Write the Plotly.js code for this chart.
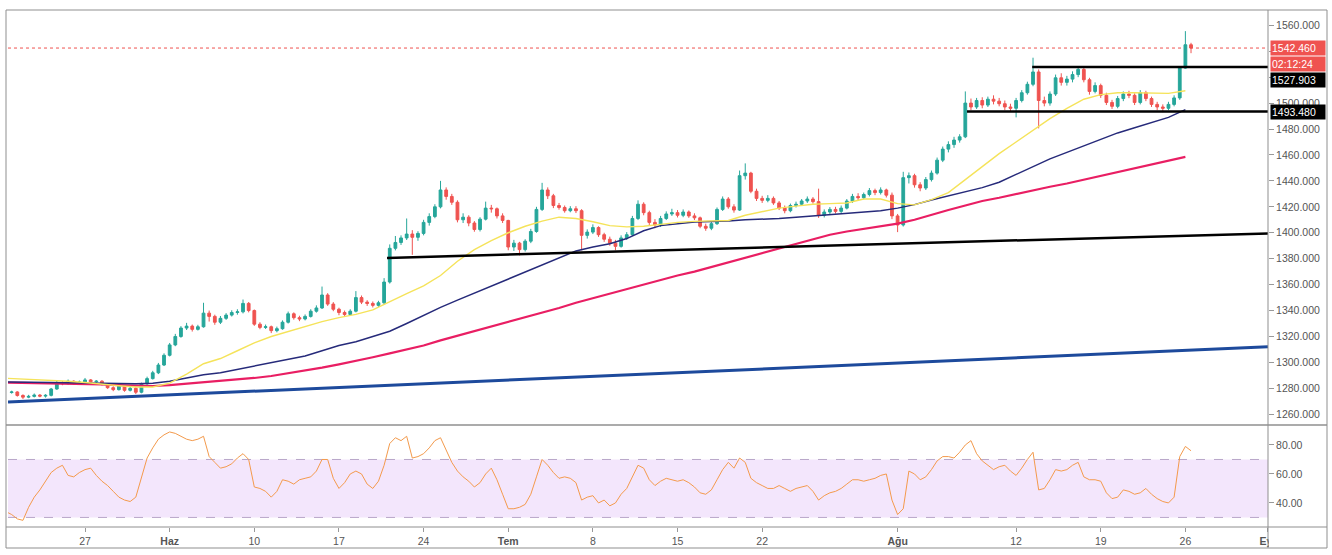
<!DOCTYPE html>
<html><head><meta charset="utf-8">
<script src="https://cdn.plot.ly/plotly-3.0.1.min.js"></script>
<style>html,body{margin:0;padding:0;background:#fff;overflow:hidden}#chart{width:1332px;height:555px}</style>
</head><body><div id="chart"></div>
<script>
// XAUUSD, 8-hour bars (3 bars per trading day, day 0 = 20 May 2019)
const firstOpen = 1278.0;
const closes = [
1277.5,1276.8,1277.2, 1274.5,1273.2,1273.8, 1274.8,1274.0,1274.6, 1279.5,1284.5,1283.5, 1285.5,1284.0,1284.8,
1286.5,1285.0,1285.5, 1283.0,1280.5,1279.0, 1281.5,1278.5,1280.0, 1277.0,1283.5,1287.5, 1292.0,1298.0,1305.5,
1313.5,1320.0,1326.5, 1328.0,1325.5,1327.5, 1338.0,1335.5,1331.0, 1334.0,1336.5,1338.5, 1339.0,1345.5,1340.0,
1329.5,1327.0,1327.5, 1324.5,1326.0,1331.0, 1337.5,1334.5,1333.5, 1335.5,1339.5,1342.0, 1352.0,1345.0,1341.0,
1338.5,1337.0,1339.5, 1350.0,1346.5,1345.5, 1344.0,1346.0,1362.0, 1388.0,1392.5,1396.0, 1399.0,1396.5,1399.5,
1408.0,1412.5,1420.0, 1433.0,1428.0,1423.5, 1410.0,1412.0,1407.5, 1402.5,1410.5,1419.0, 1418.5,1413.0,1409.5,
1389.0,1392.0,1387.0, 1393.5,1401.0,1418.0, 1433.0,1428.5,1421.0, 1419.5,1417.0,1418.5, 1417.0,1398.0,1400.5,
1404.0,1398.5,1395.0, 1392.0,1389.5,1396.0, 1398.5,1411.0,1422.0, 1415.5,1408.0,1406.0, 1411.0,1414.5,1415.5,
1413.5,1416.0,1413.0, 1411.5,1405.0,1403.5, 1407.0,1418.0,1426.0, 1420.0,1417.5,1444.0, 1446.0,1432.0,1426.5,
1425.0,1426.5,1423.0, 1419.0,1417.0,1421.0, 1422.0,1424.5,1426.0, 1424.0,1413.5,1416.0, 1418.0,1416.5,1419.0,
1424.5,1428.0,1427.0, 1429.5,1432.5,1431.0, 1433.0,1429.0,1413.0, 1406.0,1442.5,1444.0, 1437.0,1434.5,1441.0,
1446.0,1456.0,1464.5, 1468.0,1471.5,1474.0, 1500.0,1497.0,1502.0, 1498.5,1503.0,1501.5, 1499.5,1497.0,1496.0,
1502.0,1508.0,1514.5, 1524.0,1502.0,1500.0, 1507.0,1519.5,1516.0, 1518.5,1522.0,1526.0, 1518.0,1509.0,1513.5,
1506.0,1500.5,1497.5, 1503.5,1507.0,1506.0, 1500.5,1508.0,1503.5, 1499.0,1497.0,1496.0, 1499.0,1504.0,1527.0,
1545.0,1542.46
];
const highs = [
1279.0,1278.5,1278.2, 1277.8,1275.4,1275.0, 1276.0,1275.6,1275.5, 1280.3,1286.0,1285.6, 1286.8,1286.2,1286.0,
1288.0,1287.2,1286.4, 1286.3,1283.8,1281.6, 1282.6,1282.3,1281.2, 1280.8,1284.4,1289.0, 1293.5,1299.6,1307.0,
1315.0,1322.0,1328.0, 1330.5,1329.2,1329.0, 1346.0,1340.0,1336.8, 1335.8,1338.0,1340.2, 1341.0,1348.5,1346.6,
1340.8,1331.0,1329.2, 1328.4,1327.6,1332.4, 1339.2,1338.6,1336.0, 1337.0,1341.0,1344.0, 1358.5,1353.4,1346.5,
1342.2,1340.0,1341.0, 1355.0,1351.6,1348.0, 1347.0,1347.5,1365.0, 1391.0,1397.5,1398.0, 1411.0,1402.0,1401.2,
1410.0,1415.0,1422.0, 1440.0,1435.0,1430.0, 1425.0,1415.0,1413.5, 1409.0,1412.0,1424.0, 1421.5,1419.5,1415.0,
1410.0,1394.5,1393.0, 1395.0,1403.0,1420.0, 1438.5,1435.0,1430.0, 1423.0,1421.0,1420.5, 1420.5,1418.2,1402.6,
1406.5,1405.0,1400.0, 1397.0,1394.5,1398.0, 1400.5,1413.0,1425.0, 1423.5,1417.0,1410.5, 1413.0,1416.5,1418.5,
1417.5,1418.0,1417.2, 1415.0,1412.5,1407.0, 1408.5,1419.5,1428.0, 1427.5,1422.0,1448.0, 1453.5,1447.0,1434.0,
1428.5,1429.0,1428.0, 1424.5,1421.0,1422.5, 1424.0,1426.0,1428.0, 1427.5,1434.0,1418.0, 1419.8,1420.0,1421.0,
1426.0,1430.0,1430.5, 1431.0,1434.5,1434.0, 1435.0,1434.0,1431.0, 1414.5,1447.0,1446.5, 1445.5,1439.0,1443.0,
1448.0,1458.0,1466.5, 1470.5,1474.0,1476.0, 1509.0,1503.5,1504.0, 1504.5,1505.0,1506.0, 1504.0,1502.0,1499.5,
1504.0,1510.0,1516.5, 1535.0,1526.0,1505.0, 1509.0,1522.0,1523.0, 1521.0,1524.5,1528.0, 1527.0,1519.5,1516.0,
1515.0,1508.0,1502.5, 1505.5,1509.0,1509.5, 1507.5,1510.0,1509.5, 1505.0,1501.0,1499.0, 1501.0,1506.0,1528.5,
1555.5,1546.5
];
const lows = [
1276.5,1275.8,1275.9, 1273.6,1271.8,1272.4, 1273.0,1273.1,1272.9, 1273.8,1278.9,1282.4, 1282.9,1283.0,1283.2,
1284.2,1284.3,1284.1, 1282.2,1279.6,1277.8, 1278.3,1277.4,1277.6, 1275.6,1276.2,1282.7, 1286.8,1291.0,1297.2,
1304.6,1312.5,1319.0, 1325.0,1323.8,1324.6, 1326.8,1331.5,1329.0, 1329.6,1332.8,1335.4, 1336.8,1337.8,1338.6,
1328.2,1325.6,1325.8, 1322.6,1323.2,1325.2, 1330.0,1333.0,1331.8, 1332.4,1334.6,1338.4, 1341.2,1343.6,1339.5,
1336.4,1335.5,1336.0, 1338.6,1345.0,1343.6, 1342.4,1342.8,1344.8, 1360.8,1386.4,1390.6, 1394.4,1383.0,1393.8,
1398.0,1405.5,1411.2, 1418.8,1425.5,1421.5, 1408.0,1407.5,1405.0, 1400.8,1401.0,1409.5, 1415.5,1411.0,1407.5,
1386.5,1386.0,1382.5, 1385.5,1392.0,1400.0, 1416.8,1426.0,1419.0, 1417.8,1415.5,1415.8, 1415.2,1386.5,1395.5,
1399.0,1396.8,1393.0, 1390.0,1386.5,1388.5, 1394.5,1397.5,1409.8, 1413.5,1406.0,1403.5, 1404.5,1409.8,1413.0,
1411.8,1412.0,1411.5, 1409.8,1403.5,1401.5, 1402.0,1406.0,1416.8, 1418.5,1415.5,1416.8, 1441.0,1430.5,1424.5,
1423.0,1423.5,1421.5, 1417.5,1415.0,1415.8, 1419.5,1420.8,1423.0, 1422.5,1411.5,1411.8, 1414.5,1414.8,1415.2,
1418.0,1423.0,1425.2, 1425.8,1428.0,1429.0, 1429.5,1427.2,1410.5, 1400.5,1404.8,1438.0, 1434.8,1432.0,1433.0,
1439.5,1444.8,1454.5, 1462.0,1465.5,1469.5, 1473.0,1494.5,1495.5, 1496.0,1497.0,1499.0, 1497.5,1494.5,1493.5,
1489.0,1500.5,1506.5, 1513.0,1480.5,1497.5, 1498.0,1505.5,1513.5, 1513.5,1516.0,1520.0, 1516.0,1506.5,1507.5,
1504.0,1498.5,1495.5, 1496.0,1501.5,1503.8, 1498.5,1499.0,1501.5, 1497.0,1494.5,1493.0, 1494.5,1497.5,1502.5,
1526.5,1538.5
];
const rsi = [
36,34,32,29,28,37,44,49,55,61, 64,66,59,58,61,63,64,59,55,52, 48,44,42,41,44,58,71,78,84,87,
89,88,86,84,83,84,86,72,68,64, 65,67,71,74,70,51,50,48,44,48, 56,55,53,56,57,58,62,70,70,57,
50,54,60,62,60,53,50,55,66,81, 85,83,86,71,72,74,78,83,85,76, 68,62,58,55,51,54,60,64,56,46,
36,36,37,39,46,58,70,66,61,57, 58,57,54,42,44,45,40,42,38,40, 46,50,58,66,64,56,52,55,57,56,
55,56,54,51,47,46,49,56,63,68, 64,71,68,57,54,52,50,50,52,50, 48,50,51,52,48,42,45,47,48,50,
53,56,56,55,56,57,59,60,42,32, 36,62,60,56,58,63,69,72,72,71, 75,80,83,74,69,66,63,65,66,62,
59,64,70,75,49,50,56,63,62,63, 66,68,58,56,56,55,47,43,44,49, 48,46,47,50,46,43,41,40,44,72,
79,76
];
// Moving averages, one value per trading day
const maYellow = [
1288,1287.5,1287,1286.5,1285.5,1284.5,1283,1282,1281,1281,
1284,1291,1299,1303,1309,1315,1320,1324,1328,1331.5,
1334.5,1337,1340.5,1347,1353,1359,1367,1378,1387,1394,
1400,1405,1409,1412,1411,1408.5,1405.5,1404.5,1405,1406.5,
1408,1408.8,1409,1409.5,1413.5,1416.5,1419,1420.5,1422,1422.5,
1423,1426,1426,1422.5,1421.5,1425.5,1431,1441,1451,1461,
1470,1479,1488,1496,1503,1506.5,1508,1508,1508,1507.5,
1509.5
];
const maNavy = [
1285,1285,1284.8,1284.5,1284.3,1284,1284,1283.8,1283.6,1284,
1285.5,1288,1290.5,1292,1294.5,1297,1300,1302,1305,1309,
1313,1316,1320,1324,1330,1336.5,1342.5,1348,1353.5,1359,
1364.5,1370,1375.5,1381,1386,1389,1391.5,1395.5,1401.5,1405.5,
1407,1408.2,1408.7,1409,1410,1410.3,1411,1412,1413,1414,
1415,1415.7,1417,1419,1421.7,1425.3,1428.5,1431.5,1434.8,1439,
1445,1451,1457,1462,1467,1472,1477,1481,1485,1489,
1495
];
const maCrimson = [
1284.5,1284.3,1284,1283.8,1283.5,1283.2,1283,1282.5,1282,1281.8,
1282.5,1283.5,1284.5,1285.5,1286.5,1288,1289.5,1291.5,1293.5,1296,
1298.5,1301,1304,1307,1310,1313,1317,1320.5,1324,1327.5,
1331,1334.5,1338.5,1342,1346,1349.5,1353,1357,1360.5,1364,
1367,1370,1373.5,1377,1381,1384.5,1388,1391.5,1395,1398.5,
1401,1403,1405,1407,1410,1414,1417.5,1421,1424.5,1427,
1430,1432.5,1435.5,1438,1441,1444,1447,1450,1453,1455.5,
1458.5
];
// drawn lines (day index, price)
const baseTrendDays = [0.45, 74.88], baseTrendPrices = [1269.5, 1312.0];
const supportTrendDays = [22.84, 74.88], supportTrendPrices = [1380.6, 1399.5];
const upperLevelStart = 60.95, upperLevel = 1527.903;
const lowerLevelStart = 57.1, lowerLevel = 1493.480;
const lastPrice = 1542.46;
const countdown = '02:12:24';
// axis labels
const tickDays = [5, 10, 15, 20, 25, 30, 35, 40, 45, 53, 60, 65, 70, 74.85];
const tickText = ['27', '<b>Haz</b>', '10', '17', '24', '<b>Tem</b>', '8', '15', '22', '<b>Ağu</b>', '12', '19', '26', '<b>Eyl</b>'];
const priceTicks = [1260,1280,1300,1320,1340,1360,1380,1400,1420,1440,1460,1480,1500,1520,1540,1560];
const hiddenPriceTicks = [1520, 1540];   // covered by the price boxes in the reference
const rsiTicks = [40, 60, 80];
const rsiBands = [30, 70];

const BARS_PER_DAY = 3;
const xRange = [0.45, 74.88];
const barX = closes.map((_, i) => Math.floor(i / BARS_PER_DAY) + (i % BARS_PER_DAY) / BARS_PER_DAY);
const opens = closes.map((c, i) => i === 0 ? firstOpen : closes[i - 1]);
const hi = highs.map((h, i) => Math.max(h, opens[i], closes[i]));
const lo = lows.map((l, i) => Math.min(l, opens[i], closes[i]));
const maDays = maYellow.map((_, i) => i);
const priceTickText = priceTicks.map(v => hiddenPriceTicks.includes(v) ? '' : v.toFixed(3));

const FONT = '"Liberation Sans", Arial, sans-serif';
const traces = [
  {type: 'candlestick', x: barX, open: opens, high: hi, low: lo, close: closes,
   xaxis: 'x', yaxis: 'y', whiskerwidth: 0, hoverinfo: 'skip',
   increasing: {line: {color: '#26a69a', width: 1}, fillcolor: '#26a69a'},
   decreasing: {line: {color: '#ef5350', width: 1}, fillcolor: '#ef5350'}},
  {type: 'scatter', mode: 'lines', x: maDays, y: maCrimson, xaxis: 'x', yaxis: 'y',
   line: {color: '#e91e63', width: 2.2}, hoverinfo: 'skip'},
  {type: 'scatter', mode: 'lines', x: maDays, y: maNavy, xaxis: 'x', yaxis: 'y',
   line: {color: '#262a7a', width: 1.5}, hoverinfo: 'skip'},
  {type: 'scatter', mode: 'lines', x: maDays, y: maYellow, xaxis: 'x', yaxis: 'y',
   line: {color: '#f5e35a', width: 1.4}, hoverinfo: 'skip'},
  {type: 'scatter', mode: 'lines', x: baseTrendDays, y: baseTrendPrices, xaxis: 'x', yaxis: 'y',
   line: {color: '#1d4a9c', width: 3}, hoverinfo: 'skip'},
  {type: 'scatter', mode: 'lines', x: supportTrendDays, y: supportTrendPrices, xaxis: 'x', yaxis: 'y',
   line: {color: '#000000', width: 2.5}, hoverinfo: 'skip'},
  {type: 'scatter', mode: 'lines', x: [upperLevelStart, xRange[1]], y: [upperLevel, upperLevel], xaxis: 'x', yaxis: 'y',
   line: {color: '#000000', width: 2.5}, hoverinfo: 'skip'},
  {type: 'scatter', mode: 'lines', x: [lowerLevelStart, xRange[1]], y: [lowerLevel, lowerLevel], xaxis: 'x', yaxis: 'y',
   line: {color: '#000000', width: 2.5}, hoverinfo: 'skip'},
  {type: 'scatter', mode: 'lines', x: barX, y: rsi, xaxis: 'x', yaxis: 'y2',
   line: {color: '#f39a4c', width: 1}, hoverinfo: 'skip'}
];

const frame = '#8f8f8f';
const px = v => (v - 8) / 1260;       // page x -> paper
const py = v => (527 - v) / 517;      // page y -> paper
const shapes = [
  {type: 'rect', xref: 'paper', yref: 'y2', x0: 0, x1: 1, y0: rsiBands[0], y1: rsiBands[1],
   fillcolor: '#f3e6fc', line: {width: 0}, layer: 'below'},
  {type: 'line', xref: 'paper', yref: 'y2', x0: 0, x1: 1, y0: rsiBands[1], y1: rsiBands[1],
   line: {color: '#b9a6c9', width: 1, dash: 'dash'}, layer: 'below'},
  {type: 'line', xref: 'paper', yref: 'y2', x0: 0, x1: 1, y0: rsiBands[0], y1: rsiBands[0],
   line: {color: '#b9a6c9', width: 1, dash: 'dash'}, layer: 'below'},
  {type: 'line', xref: 'paper', yref: 'y', x0: 0, x1: 1, y0: lastPrice, y1: lastPrice,
   line: {color: '#ef5350', width: 1, dash: 'dot'}, layer: 'below'},
  // clip the last date label like the reference
  {type: 'rect', xref: 'paper', yref: 'paper', x0: px(1269), x1: px(1331), y0: py(553), y1: py(528),
   fillcolor: '#ffffff', line: {width: 0}, layer: 'above'},
  // frame
  {type: 'rect', xref: 'paper', yref: 'paper', x0: px(6), x1: px(1327), y0: py(548), y1: py(10),
   line: {color: frame, width: 1}, layer: 'above'},
  {type: 'line', xref: 'paper', yref: 'paper', x0: px(6), x1: px(1327), y0: py(425), y1: py(425),
   line: {color: frame, width: 1.5}, layer: 'above'},
  {type: 'line', xref: 'paper', yref: 'paper', x0: px(6), x1: px(1327), y0: 0, y1: 0,
   line: {color: frame, width: 1}, layer: 'above'},
  {type: 'line', xref: 'paper', yref: 'paper', x0: 1, x1: 1, y0: py(548), y1: 1,
   line: {color: frame, width: 1}, layer: 'above'}
];

const boxFont = {family: FONT, size: 10.5, color: '#ffffff'};
const priceBox = (y, text, bg, shift) => ({
  xref: 'paper', yref: 'y', x: 1, y: y, xanchor: 'left', yanchor: 'middle', xshift: 2, yshift: shift,
  text: text, showarrow: false, bgcolor: bg, font: boxFont, width: 52, height: 12, borderpad: 1, align: 'left'
});
const annotations = [
  priceBox(lastPrice, lastPrice.toFixed(3), '#ef5350', 0),
  priceBox(lastPrice, countdown, '#ef5350', -16),
  priceBox(upperLevel, upperLevel.toFixed(3), '#000000', -13),
  priceBox(lowerLevel, lowerLevel.toFixed(3), '#000000', 0)
];

const axisCommon = {showgrid: false, zeroline: false, showline: false, ticks: 'outside', tickcolor: '#999', fixedrange: true};
const layout = {
  width: 1332, height: 555,
  margin: {l: 8, r: 64, t: 10, b: 28, pad: 0},
  paper_bgcolor: '#ffffff', plot_bgcolor: '#ffffff',
  showlegend: false,
  font: {family: FONT, size: 10, color: '#555'},
  xaxis: Object.assign({}, axisCommon, {range: xRange, anchor: 'y2', tickmode: 'array', tickvals: tickDays,
    ticktext: tickText, ticklen: 4, tickfont: {family: FONT, size: 10.5, color: '#555'},
    rangeslider: {visible: false}}),
  yaxis: Object.assign({}, axisCommon, {domain: [py(424), 1], range: [1252.5, 1571.8], side: 'right', anchor: 'x',
    tickmode: 'array', tickvals: priceTicks, ticktext: priceTickText, ticklen: 5,
    tickfont: {family: FONT, size: 10.5, color: '#555'}}),
  yaxis2: Object.assign({}, axisCommon, {domain: [0, py(426)], range: [23.4, 93.1], side: 'right', anchor: 'x',
    tickmode: 'array', tickvals: rsiTicks, tickformat: '.2f', ticklen: 5,
    tickfont: {family: FONT, size: 10.5, color: '#555'}}),
  shapes: shapes,
  annotations: annotations
};

Plotly.newPlot('chart', traces, layout, {staticPlot: true, displayModeBar: false});
</script>
</body></html>
